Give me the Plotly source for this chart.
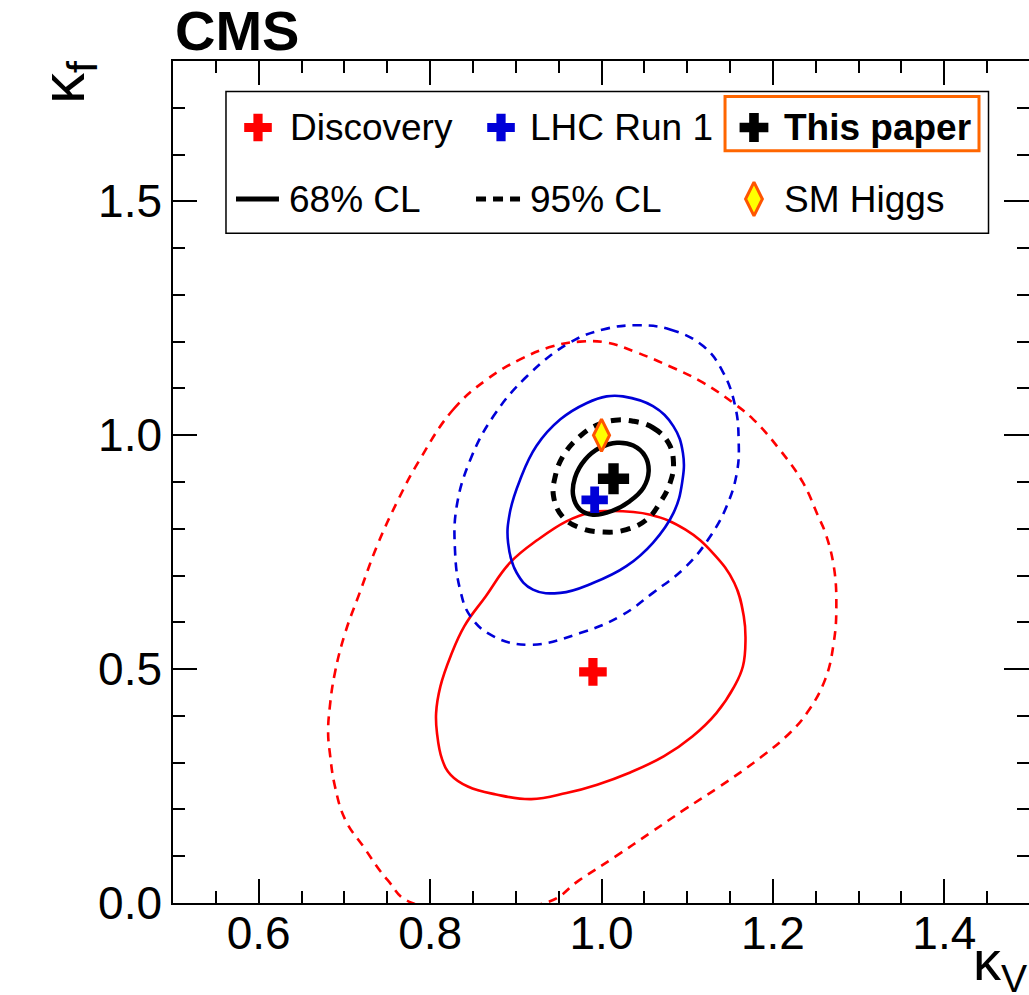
import plotly.graph_objects as go

# ---------------- data ----------------
# Discovery (red)
disc_best_kv = [0.990]
disc_best_kf = [0.494]
disc68_kv = [1.008, 1.057, 1.098, 1.130, 1.155, 1.166, 1.168, 1.165, 1.155, 1.134,
             1.106, 1.073, 1.032, 0.995, 0.959, 0.918, 0.877, 0.844, 0.824, 0.814,
             0.808, 0.807, 0.812, 0.824, 0.840, 0.865, 0.893, 0.926, 0.959, 0.987]
disc68_kf = [0.838, 0.830, 0.798, 0.748, 0.684, 0.613, 0.563, 0.506, 0.463, 0.406,
             0.356, 0.314, 0.278, 0.253, 0.235, 0.222, 0.232, 0.249, 0.274, 0.307,
             0.364, 0.406, 0.463, 0.528, 0.592, 0.656, 0.727, 0.777, 0.816, 0.835]
disc95_kv = [0.788, 0.827, 0.866, 0.905, 0.943, 0.975, 1.006, 1.041, 1.080, 1.118,
             1.153, 1.177, 1.208, 1.235, 1.253, 1.261, 1.271, 1.274, 1.271, 1.261,
             1.240, 1.220, 1.187, 1.138, 1.097, 1.057, 1.016, 0.975, 0.934, 0.779,
             0.750, 0.722, 0.701, 0.689, 0.683, 0.681, 0.683, 0.689, 0.701, 0.718,
             0.738, 0.763]
disc95_kf = [0.948, 1.055, 1.119, 1.162, 1.190, 1.200, 1.198, 1.177, 1.147, 1.113,
             1.070, 1.034, 0.969, 0.899, 0.826, 0.792, 0.720, 0.634, 0.557, 0.478,
             0.407, 0.364, 0.313, 0.249, 0.200, 0.150, 0.099, 0.050, 0.000, 0.000,
             0.050, 0.121, 0.178, 0.249, 0.321, 0.364, 0.420, 0.493, 0.578, 0.664,
             0.763, 0.863]

# LHC Run 1 (blue)
run1_best_kv = [0.992]
run1_best_kf = [0.862]
run1_68_kv = [1.025, 1.060, 1.084, 1.095, 1.094, 1.084, 1.060, 1.029, 0.990, 0.952,
              0.920, 0.901, 0.891, 0.893, 0.905, 0.924, 0.952, 0.983, 1.006]
run1_68_kf = [1.083, 1.062, 1.019, 0.962, 0.898, 0.834, 0.770, 0.720, 0.684, 0.663,
              0.670, 0.706, 0.770, 0.834, 0.905, 0.977, 1.034, 1.069, 1.083]
run1_95_kv = [1.041, 1.080, 1.119, 1.142, 1.156, 1.160, 1.158, 1.146, 1.127, 1.099,
              1.060, 1.022, 0.975, 0.917, 0.874, 0.847, 0.835, 0.829, 0.831, 0.847,
              0.874, 0.913, 0.963, 1.002]
run1_95_kf = [1.235, 1.226, 1.190, 1.134, 1.062, 0.991, 0.920, 0.848, 0.784, 0.720,
              0.663, 0.613, 0.577, 0.552, 0.570, 0.613, 0.670, 0.756, 0.848, 0.948,
              1.041, 1.126, 1.198, 1.226]

# This paper (black)
this_best_kv = [1.014]
this_best_kf = [0.907]
this68_kv = [1.018, 1.037, 1.051, 1.055, 1.049, 1.033, 1.012, 0.990, 0.975, 0.967,
             0.969, 0.981, 0.998]
this68_kf = [0.984, 0.978, 0.955, 0.923, 0.888, 0.859, 0.838, 0.830, 0.841, 0.870,
             0.909, 0.948, 0.973]
this95_kv = [1.037, 1.060, 1.078, 1.084, 1.080, 1.068, 1.053, 1.029, 1.002, 0.975,
             0.954, 0.944, 0.946, 0.955, 0.975, 0.994, 1.016]
this95_kf = [1.030, 1.016, 0.984, 0.941, 0.898, 0.855, 0.820, 0.798, 0.793, 0.802,
             0.827, 0.870, 0.912, 0.955, 0.998, 1.021, 1.032]

# SM Higgs
sm_kv = [1.0]
sm_kf = [1.0]

# axis ranges / ticks
x_range = [0.5, 1.4988]
y_range = [0.0, 1.8]

# legend texts
leg_row1 = ["Discovery", "LHC Run 1", "This paper"]
leg_row2 = ["68% CL", "95% CL", "SM Higgs"]

# ---------------- styles ----------------
RED = "#ff0000"
BLUE = "#0000d8"
BLACK = "#000000"
ORANGE = "#ff6600"
FONT = "Liberation Sans, Arial, Helvetica, sans-serif"


def closed(a):
    return list(a) + [a[0]]


fig = go.Figure()


def contour(kv, kf, color, width, dash):
    fig.add_trace(go.Scatter(
        x=closed(kv), y=closed(kf), mode="lines",
        line=dict(color=color, width=width, dash=dash, shape="spline", smoothing=1.2),
        hoverinfo="skip", showlegend=False))


contour(disc95_kv, disc95_kf, RED, 2.6, "9px,7px")
contour(disc68_kv, disc68_kf, RED, 2.6, "solid")
contour(run1_95_kv, run1_95_kf, BLUE, 2.6, "9px,7px")
contour(run1_68_kv, run1_68_kf, BLUE, 2.6, "solid")
contour(this95_kv, this95_kf, BLACK, 5, "10px,8px")
contour(this68_kv, this68_kf, BLACK, 4.5, "solid")


def point(kv, kf, symbol, size, color, lw=0, lc=None, xa="x", ya="y"):
    fig.add_trace(go.Scatter(
        x=kv, y=kf, mode="markers", xaxis=xa, yaxis=ya, cliponaxis=False,
        marker=dict(symbol=symbol, size=size, color=color,
                    line=dict(width=lw, color=lc if lc else color)),
        hoverinfo="skip", showlegend=False))


point(disc_best_kv, disc_best_kf, "cross", 23, RED)
point(run1_best_kv, run1_best_kf, "cross", 22, BLUE)
point(sm_kv, sm_kf, "diamond-tall", 23, "#ffff00", 3, "#ff5500")
point(this_best_kv, this_best_kf, "cross", 26, BLACK)

# dummy trace for right-side ticks
fig.add_trace(go.Scatter(x=[None], y=[None], xaxis="x", yaxis="y3",
                         showlegend=False, hoverinfo="skip"))

# ---------------- legend (normalised plot-area coordinates) ----------------
row1_y = 0.9210
row2_y = 0.8361
col_marker_x = [0.0993, 0.3832, 0.6787]
col_text_x = [0.1340, 0.4150, 0.7120]

point([col_marker_x[0]], [row1_y], "cross", 23, RED, xa="x2", ya="y2")
point([col_marker_x[1]], [row1_y], "cross", 23, BLUE, xa="x2", ya="y2")
point([col_marker_x[2]], [row1_y], "cross", 24, BLACK, xa="x2", ya="y2")
point([col_marker_x[2]], [row2_y], "diamond-tall", 24, "#ffff00", 3, "#ff5500", xa="x2", ya="y2")

shapes = [
    dict(type="rect", xref="paper", yref="paper", x0=0.0619, x1=0.9527, y0=0.7954, y1=0.9638,
         line=dict(color=BLACK, width=1.5), fillcolor="rgba(255,255,255,1)", layer="below"),
    dict(type="rect", xref="paper", yref="paper", x0=0.6449, x1=0.9416, y0=0.8935, y1=0.9578,
         line=dict(color=ORANGE, width=3)),
    dict(type="line", xref="paper", yref="paper", x0=0.0736, x1=0.1238, y0=row2_y, y1=row2_y,
         line=dict(color=BLACK, width=5)),
    dict(type="line", xref="paper", yref="paper", x0=0.3540, x1=0.4065, y0=row2_y, y1=row2_y,
         line=dict(color=BLACK, width=5, dash="10px,7px")),
]

annotations = []
for i, t in enumerate(leg_row1):
    annotations.append(dict(
        xref="paper", yref="paper", x=col_text_x[i], y=row1_y, xanchor="left", yanchor="middle",
        text=("<b>%s</b>" % t) if i == 2 else t, showarrow=False,
        font=dict(family=FONT, size=37, color=BLACK)))
row2_text_x = [0.1330, 0.4150, 0.7120]
for i, t in enumerate(leg_row2):
    annotations.append(dict(
        xref="paper", yref="paper", x=row2_text_x[i], y=row2_y, xanchor="left", yanchor="middle",
        text=t, showarrow=False, font=dict(family=FONT, size=37, color=BLACK)))

# CMS label and axis titles
annotations.append(dict(xref="paper", yref="paper", x=0.0, y=0.996, xanchor="left", yanchor="bottom",
                        text="<b>CMS</b>", showarrow=False,
                        font=dict(family=FONT, size=56, color=BLACK)))
annotations.append(dict(xref="paper", yref="paper", x=-0.124, y=0.975, xanchor="center", yanchor="middle",
                        text="κ<sub>f</sub>", textangle=-90, showarrow=False,
                        font=dict(family=FONT, size=62, color=BLACK)))
annotations.append(dict(xref="paper", yref="paper", x=0.932, y=-0.073, xanchor="left", yanchor="middle",
                        text="κ<sub>V</sub>", showarrow=False,
                        font=dict(family=FONT, size=56, color=BLACK)))

tickfont = dict(family=FONT, size=46, color=BLACK)

fig.update_layout(
    width=1029, height=995,
    margin=dict(l=173, r=0, t=61, b=92, pad=0, autoexpand=False),
    paper_bgcolor="white", plot_bgcolor="white",
    shapes=shapes, annotations=annotations,
    showlegend=False,
    xaxis=dict(range=x_range, tick0=0, dtick=0.2, tickformat=".1f",
               ticks="inside", ticklen=24, tickwidth=1.5, tickcolor=BLACK,
               showline=True, linecolor=BLACK, linewidth=1.5, mirror="ticks",
               layer="below traces",
               showgrid=False, zeroline=False, tickfont=tickfont, ticklabelstandoff=-11,
               minor=dict(ticks="inside", ticklen=12, tickwidth=1.5, tickcolor=BLACK,
                          tick0=0, dtick=0.05, showgrid=False)),
    yaxis=dict(range=y_range, tick0=0, dtick=0.5, tickformat=".1f",
               ticks="inside", ticklen=24, tickwidth=1.5, tickcolor=BLACK,
               showline=True, linecolor=BLACK, linewidth=1.5, mirror=False,
               layer="below traces",
               showgrid=False, zeroline=False, tickfont=tickfont, ticklabelstandoff=0,
               minor=dict(ticks="inside", ticklen=12, tickwidth=1.5, tickcolor=BLACK,
                          tick0=0, dtick=0.1, showgrid=False)),
    yaxis3=dict(range=y_range, overlaying="y", side="right", anchor="x",
                tick0=0, dtick=0.5, ticks="inside", ticklen=25, tickwidth=1.5, tickcolor=BLACK,
                showticklabels=False, showline=False, showgrid=False, zeroline=False,
                minor=dict(ticks="inside", ticklen=12, tickwidth=1.5, tickcolor=BLACK,
                           tick0=0, dtick=0.1, showgrid=False)),
    xaxis2=dict(range=[0, 1], overlaying="x", anchor="y2", visible=False),
    yaxis2=dict(range=[0, 1], overlaying="y", anchor="x2", visible=False),
)

fig.write_html("out.html")
